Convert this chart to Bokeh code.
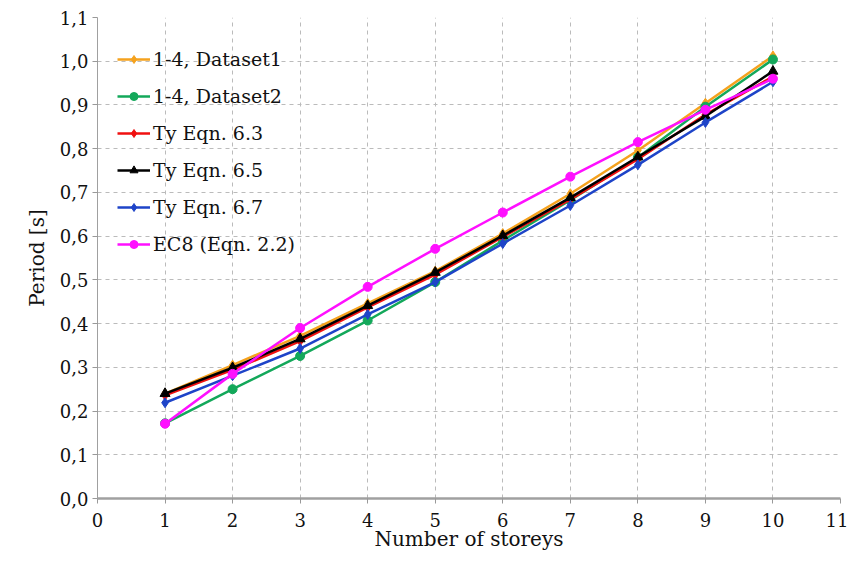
from bokeh.plotting import figure
from bokeh.models import Range1d, FixedTicker, CustomJSTickFormatter, Legend, LegendItem
from bokeh.embed import file_html
from bokeh.resources import INLINE

storeys = [1, 2, 3, 4, 5, 6, 7, 8, 9, 10]
dataset1 = [0.240, 0.305, 0.372, 0.446, 0.520, 0.606, 0.697, 0.796, 0.904, 1.012]
dataset2 = [0.172, 0.250, 0.326, 0.407, 0.495, 0.590, 0.682, 0.780, 0.896, 1.004]
ty63 = [0.236, 0.294, 0.360, 0.437, 0.512, 0.598, 0.684, 0.776, 0.878, 0.965]
ty65 = [0.240, 0.299, 0.365, 0.441, 0.517, 0.601, 0.688, 0.781, 0.874, 0.977]
ty67 = [0.219, 0.281, 0.343, 0.421, 0.495, 0.583, 0.670, 0.763, 0.860, 0.953]
ec8 = [0.171, 0.285, 0.390, 0.484, 0.571, 0.654, 0.736, 0.815, 0.889, 0.960]

labels = ["1-4, Dataset1", "1-4, Dataset2", "Ty Eqn. 6.3", "Ty Eqn. 6.5", "Ty Eqn. 6.7", "EC8 (Eqn. 2.2)"]
colors = ["#F5A21E", "#13A85A", "#F01010", "#000000", "#1E44C8", "#FF10FF"]
markers = ["diamond", "circle", "diamond", "triangle", "diamond", "circle"]
series = [dataset1, dataset2, ty63, ty65, ty67, ec8]
x_ticks = list(range(0, 12))
y_ticks = [i / 10 for i in range(0, 12)]
x_title = "Number of storeys"
y_title = "Period [s]"

FONT = "DejaVu Serif"

p = figure(width=848, height=570, output_backend="svg", toolbar_location=None,
           x_range=Range1d(0, 11), y_range=Range1d(0, 1.1),
           min_border_left=97, min_border_right=8, min_border_top=17, min_border_bottom=72)
p.outline_line_color = None
p.background_fill_color = "white"
p.border_fill_color = "white"

items = []
for lab, col, mk, ys in zip(labels, colors, markers, series):
    r1 = p.line(storeys, ys, line_color=col, line_width=2.5)
    r2 = p.scatter(storeys, ys, marker=mk, size=10 if mk != "circle" else 9,
                   fill_color=col, line_color=col)
    items.append(LegendItem(label=lab, renderers=[r1, r2]))

legend = Legend(items=items, location=(20, 243), padding=0, margin=0,
                spacing=15, glyph_width=33, glyph_height=20, label_height=20,
                label_standoff=3, border_line_color=None, background_fill_alpha=0,
                label_text_font=FONT, label_text_font_size="19px", label_text_color="#111111")
p.add_layout(legend)

fmt = CustomJSTickFormatter(code="return tick.toFixed(1).replace('.', ',');")
p.xaxis.ticker = FixedTicker(ticks=x_ticks)
p.yaxis.ticker = FixedTicker(ticks=y_ticks)
p.yaxis.formatter = fmt
p.xaxis.minor_tick_line_color = None
p.yaxis.minor_tick_line_color = None

for ax in (p.xaxis, p.yaxis):
    ax.major_label_text_font = FONT
    ax.major_label_text_font_size = "18px"
    ax.major_label_text_color = "#111111"
    ax.axis_label_text_font = FONT
    ax.axis_label_text_font_size = "20px"
    ax.axis_label_text_font_style = "normal"
    ax.axis_label_text_color = "#111111"
    ax.major_tick_line_color = "#999999"
    ax.major_tick_out = 5
    ax.major_tick_in = 0

p.xaxis.axis_label = x_title
p.yaxis.axis_label = y_title
p.xaxis.axis_line_color = "#A0A0A0"
p.xaxis.axis_line_width = 2.5
p.yaxis.axis_line_color = "#A0A0A0"
p.yaxis.axis_line_width = 1
p.xaxis.major_label_standoff = 9
p.yaxis.major_label_standoff = 4
p.xaxis.axis_label_standoff = -3
p.yaxis.axis_label_standoff = 8

p.grid.grid_line_color = "#BBBBBB"
p.grid.grid_line_dash = "4 4"
p.grid.grid_line_width = 1

open("out.html", "w").write(file_html(p, INLINE))
